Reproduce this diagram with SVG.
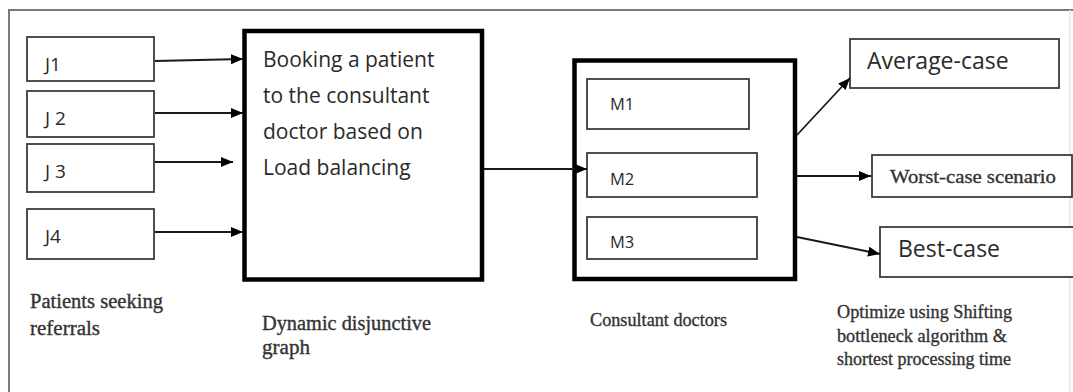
<svg xmlns="http://www.w3.org/2000/svg" width="1073" height="392" viewBox="0 0 1073 392">
<style>
.frame{fill:none;stroke:#7a7a7a;stroke-width:2}
.box{fill:#fff;stroke:#3c3c3c;stroke-width:1.8}
.big{fill:#fff;stroke:#000;stroke-width:4.5}
.sans{font-family:"Open Sans","Liberation Sans",sans-serif;fill:#2a2a2a}
.serif{font-family:"Liberation Serif","Times New Roman",serif;fill:#333;stroke:#333;stroke-width:0.35}
.conn line{stroke:#1a1a1a;stroke-width:1.8;marker-end:url(#ah)}
</style>
<defs>
<marker id="ah" viewBox="0 0 12 10" refX="12" refY="5" markerWidth="12" markerHeight="10" markerUnits="userSpaceOnUse" orient="auto">
<path d="M0,0 L12,5 L0,10 Z" fill="#000"/>
</marker>
</defs>
<rect width="1073" height="392" fill="#fff"/>
<path class="frame" d="M9,400 V10 H1073"/>
<line x1="1070" y1="10" x2="1070" y2="392" stroke="#e4e4e4" stroke-width="1.5"/>

<g id="J1"><rect class="box" x="27" y="37" width="127" height="44"/><text class="sans" x="45" y="71" font-size="19">J1</text></g>
<g id="J2"><rect class="box" x="27" y="91" width="127" height="46"/><text class="sans" x="45" y="125" font-size="19">J 2</text></g>
<g id="J3"><rect class="box" x="27" y="144" width="127" height="48"/><text class="sans" x="45" y="178" font-size="19">J 3</text></g>
<g id="J4"><rect class="box" x="27" y="209" width="127" height="50"/><text class="sans" x="45" y="243" font-size="19">J4</text></g>
<g id="label-patients">
<text class="serif" x="30" y="308" font-size="20" textLength="133" lengthAdjust="spacingAndGlyphs">Patients seeking</text>
<text class="serif" x="30" y="335" font-size="20" textLength="70" lengthAdjust="spacingAndGlyphs">referrals</text>
</g>

<g id="booking">
<rect class="big" x="244.5" y="31" width="237.5" height="248.5"/>
<text class="sans" font-size="21" x="263"><tspan x="263" y="67">Booking a patient</tspan><tspan x="263" y="103">to the consultant</tspan><tspan x="263" y="139">doctor based on</tspan><tspan x="263" y="175">Load balancing</tspan></text>
</g>
<g id="label-graph">
<text class="serif" x="262" y="330" font-size="20" textLength="169" lengthAdjust="spacingAndGlyphs">Dynamic disjunctive</text>
<text class="serif" x="262" y="354" font-size="20" textLength="48" lengthAdjust="spacingAndGlyphs">graph</text>
</g>

<g id="doctors">
<rect class="big" x="574.5" y="60.5" width="220.5" height="218.5"/>
<g id="M1"><rect class="box" x="587" y="79" width="162" height="50"/><text class="sans" x="610" y="110" font-size="16.5">M1</text></g>
<g id="M2"><rect class="box" x="587" y="153" width="170" height="44"/><text class="sans" x="610" y="185" font-size="16.5">M2</text></g>
<g id="M3"><rect class="box" x="587" y="217" width="170" height="42"/><text class="sans" x="610" y="248" font-size="16.5">M3</text></g>
</g>
<g id="label-doctors">
<text class="serif" x="590" y="326" font-size="19" textLength="137" lengthAdjust="spacingAndGlyphs">Consultant doctors</text>
</g>

<g id="average"><rect class="box" x="850" y="39" width="209" height="49"/><text class="sans" x="867" y="69" font-size="23">Average-case</text></g>
<g id="worst"><rect class="box" x="872" y="155" width="200" height="42"/><text class="serif" x="890" y="183" font-size="19" textLength="166" lengthAdjust="spacingAndGlyphs">Worst-case scenario</text></g>
<g id="best"><rect class="box" x="880" y="227" width="195" height="50"/><text class="sans" x="898" y="257" font-size="23">Best-case</text></g>
<g id="label-optimize">
<text class="serif" x="837" y="318" font-size="19" textLength="175" lengthAdjust="spacingAndGlyphs">Optimize using Shifting</text>
<text class="serif" x="837" y="342" font-size="19" textLength="170" lengthAdjust="spacingAndGlyphs">bottleneck algorithm &amp;</text>
<text class="serif" x="837" y="365" font-size="19" textLength="174" lengthAdjust="spacingAndGlyphs">shortest processing time</text>
</g>

<g id="connectors" class="conn">
<line x1="155" y1="61" x2="243" y2="59"/>
<line x1="155" y1="113" x2="243" y2="113"/>
<line x1="155" y1="162" x2="233" y2="162"/>
<line x1="155" y1="232" x2="243" y2="232"/>
<line x1="484" y1="169" x2="587" y2="169"/>
<line x1="797" y1="135" x2="850" y2="78"/>
<line x1="797" y1="176" x2="871" y2="176"/>
<line x1="797" y1="237" x2="880" y2="254"/>
</g>
</svg>
